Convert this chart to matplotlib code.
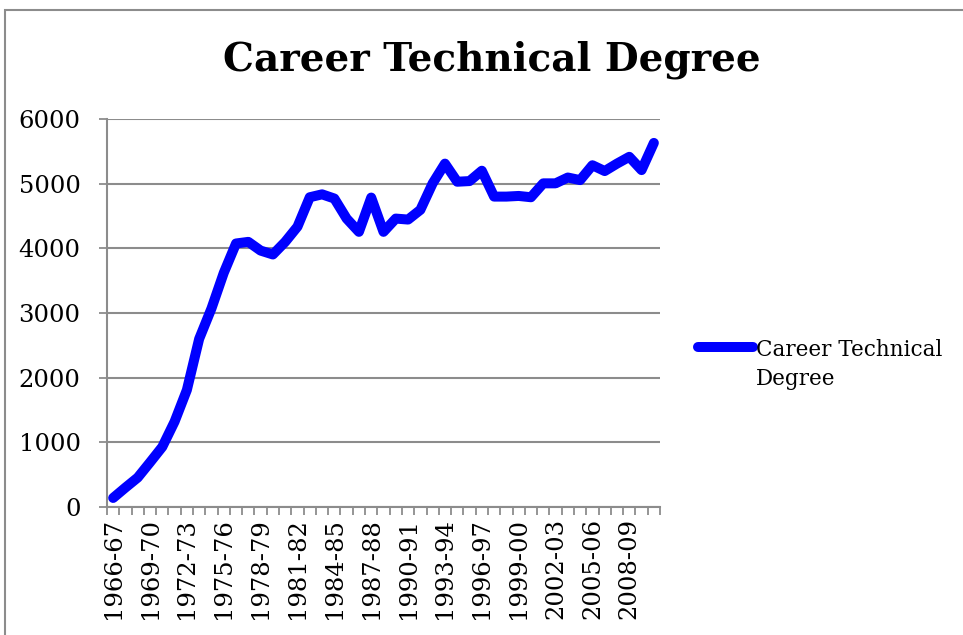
import matplotlib.pyplot as plt
import numpy as np

# Data
years = ['1966-67', '1967-68', '1968-69', '1969-70', '1970-71', '1971-72', '1972-73',
         '1973-74', '1974-75', '1975-76', '1976-77', '1977-78', '1978-79', '1979-80',
         '1980-81', '1981-82', '1982-83', '1983-84', '1984-85', '1985-86', '1986-87',
         '1987-88', '1988-89', '1989-90', '1990-91', '1991-92', '1992-93', '1993-94',
         '1994-95', '1995-96', '1996-97', '1997-98', '1998-99', '1999-00', '2000-01',
         '2001-02', '2002-03', '2003-04', '2004-05', '2005-06', '2006-07', '2007-08',
         '2008-09', '2009-10', '2010-11']
degrees = [140, 300, 455, 690, 930, 1320, 1810, 2600, 3070, 3620, 4075, 4100, 3965,
           3905, 4100, 4335, 4790, 4835, 4770, 4460, 4255, 4785, 4255, 4460, 4445,
           4595, 5005, 5310, 5030, 5040, 5200, 4800, 4800, 4810, 4790, 5005, 5005,
           5095, 5055, 5285, 5195, 5310, 5415, 5210, 5630]
tick_labels = years[::3][:15]

serif = ['DejaVu Serif']
grey = '#8c8c8c'

fig = plt.figure(figsize=(9.63, 6.35), dpi=100)
ax = fig.add_axes([107/963, 1 - 507/635, 553/963, 388/635])

x = np.arange(len(years))
ax.plot(x, degrees, color='#0000ff', lw=7.2, solid_capstyle='round',
        solid_joinstyle='round', label='Career Technical\nDegree')

ax.set_xlim(-0.5, len(years) - 0.5)
ax.set_ylim(0, 6000)
ax.set_yticks(range(0, 6001, 1000))
ax.set_xticks(x[::3][:15])
ax.set_xticklabels(tick_labels, rotation=90)
ax.set_xticks(np.arange(-0.5, len(years), 1), minor=True)
ax.tick_params(axis='x', which='major', length=0, pad=8)
ax.tick_params(axis='x', which='minor', length=6, color=grey, width=1.3)
ax.tick_params(axis='y', length=6, color=grey, width=1.3, pad=13)
for lab in ax.get_xticklabels() + ax.get_yticklabels():
    lab.set_family(serif)
    lab.set_fontsize(17.5)

ax.grid(axis='y', color=grey, lw=1.5)
ax.set_axisbelow(True)
for s in ['top', 'right']:
    ax.spines[s].set_visible(False)
for s in ['left', 'bottom']:
    ax.spines[s].set_color(grey)
    ax.spines[s].set_linewidth(1.5)

fig.text(492/963, 1 - 60/635, 'Career Technical Degree', ha='center', va='center',
         fontsize=28, fontweight='bold', family=serif)

leg = ax.legend(loc='upper left', bbox_to_anchor=(698/963, 1 - 339/635),
                bbox_transform=fig.transFigure, frameon=False, handlelength=2.55,
                handletextpad=0.15, borderaxespad=0, borderpad=0, labelspacing=0,
                prop={'family': serif, 'size': 15.5})
leg.get_texts()[0].set_linespacing(1.4)
# keep the legend line level with the first text line
for col in leg._legend_handle_box.get_children():
    for row in col.get_children():
        row.align = 'top'

# outer chart border
fig.add_artist(plt.Rectangle((5/963, -0.1), 1.1, 1.1 - 10/635, transform=fig.transFigure,
                             fill=False, ec=grey, lw=1.5))

plt.savefig('out.png', dpi=100)
